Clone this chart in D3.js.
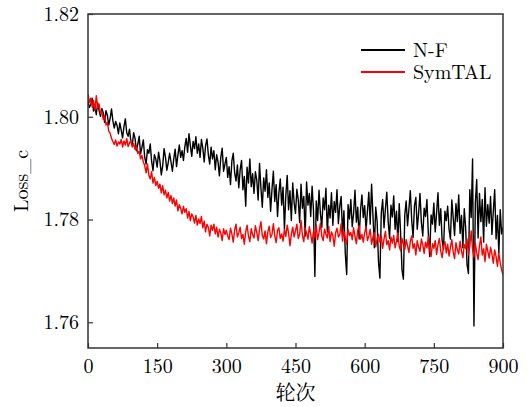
<!DOCTYPE html>
<html>
<head>
<meta charset="utf-8">
<script src="https://cdn.jsdelivr.net/npm/d3@7"></script>
<style>
  body { margin: 0; background: #fff; }
</style>
</head>
<body>
<svg id="chart" width="527" height="407"></svg>
<script>
// one value every 3 epochs: 0, 3, 6 ... 900
const epochStep = 3;

const lossNF = [
  1.8031, 1.8018, 1.8024, 1.8036, 1.8011, 1.8019, 1.8004, 1.8027, 1.8013, 1.8001,
  1.8016, 1.8008, 1.7989, 1.8012, 1.8003, 1.7984, 1.7997, 1.8015, 1.7992, 1.7978,
  1.7991, 1.7983, 1.7967, 1.7988, 1.7974, 1.7959, 1.7981, 1.7996, 1.7969, 1.7962,
  1.7976, 1.7951, 1.7944, 1.7969, 1.7958, 1.7934, 1.7947, 1.7962, 1.7928, 1.7941,
  1.7955, 1.7921, 1.7908, 1.7936, 1.7929, 1.7947, 1.7913, 1.7895, 1.7926, 1.7918,
  1.7902, 1.7931, 1.7914, 1.7887, 1.7905, 1.7938, 1.7921, 1.7896, 1.7911, 1.7929,
  1.7912, 1.7894, 1.7918, 1.7937, 1.7903, 1.7926, 1.7945, 1.7921, 1.7934, 1.7915,
  1.7942, 1.7958, 1.7931, 1.7967, 1.7944, 1.7923, 1.7952, 1.7938, 1.7961, 1.7929,
  1.7947, 1.7921, 1.7956, 1.7939, 1.7912, 1.7944, 1.7957, 1.7926, 1.7908, 1.7941,
  1.7918, 1.7934, 1.7897, 1.7926, 1.7912, 1.7885, 1.7921, 1.7939, 1.7894, 1.7908,
  1.7921, 1.7882, 1.7903, 1.7868, 1.7914, 1.7929, 1.7891, 1.7875, 1.7906, 1.7862,
  1.7897, 1.7915, 1.7858, 1.7884, 1.7826, 1.7902, 1.7871, 1.7918, 1.7864, 1.7889,
  1.7851, 1.7893, 1.7877, 1.7838, 1.7909, 1.7862, 1.7824, 1.7881, 1.7855, 1.7897,
  1.7843, 1.7871, 1.7816, 1.7859, 1.7894, 1.7835, 1.7868, 1.7806, 1.7852, 1.7879,
  1.7828, 1.7863, 1.7781, 1.7847, 1.7886, 1.7819, 1.7856, 1.7798, 1.7871, 1.7833,
  1.7812, 1.7859, 1.7838, 1.7794, 1.7869, 1.7822, 1.7845, 1.7768, 1.7873, 1.7828,
  1.7851, 1.7806, 1.7865, 1.7818, 1.7689, 1.7836, 1.7798, 1.7857, 1.7812, 1.7785,
  1.7842, 1.7819, 1.7861, 1.7776, 1.7828, 1.7803, 1.7852, 1.7789, 1.7835, 1.7814,
  1.7858, 1.7792, 1.7826, 1.7845, 1.7771, 1.7817, 1.7734, 1.7693, 1.7829, 1.7801,
  1.7839, 1.7786, 1.7812, 1.7857, 1.7795, 1.7824, 1.7762, 1.7818, 1.7848, 1.7804,
  1.7827, 1.7779, 1.7816, 1.7853, 1.7791, 1.7869, 1.7808, 1.7745, 1.7824, 1.7797,
  1.7718, 1.7686, 1.7812, 1.7839, 1.7784, 1.7821, 1.7853, 1.7796, 1.7763, 1.7828,
  1.7805, 1.7846, 1.7781, 1.7816, 1.7757, 1.7831, 1.7772, 1.7702, 1.7684, 1.7809,
  1.7836, 1.7788, 1.7821, 1.7856, 1.7799, 1.7765, 1.7827, 1.7843, 1.7781, 1.7812,
  1.7851, 1.7794, 1.7768, 1.7822, 1.7806, 1.7839, 1.7774, 1.7728, 1.7809, 1.7791,
  1.7832, 1.7776, 1.7813, 1.7852, 1.7789, 1.7821, 1.7759, 1.7742, 1.7816, 1.7798,
  1.7826, 1.7781, 1.7762, 1.7838, 1.7804, 1.7769, 1.7831, 1.7796, 1.7848, 1.7773,
  1.7808, 1.7745, 1.7821, 1.7784, 1.7712, 1.7695, 1.7858, 1.7804, 1.7918, 1.7593,
  1.7832, 1.7878, 1.7764, 1.7851, 1.7796, 1.7839, 1.7756, 1.7862, 1.7787, 1.7829,
  1.7793, 1.7845, 1.7771, 1.7816, 1.7858, 1.7762, 1.7808, 1.7735, 1.7819, 1.7772,
  1.7785
];

const lossSymTAL = [
  1.8045, 1.8028, 1.8036, 1.8019, 1.8032, 1.8012, 1.8041, 1.8018, 1.8025, 1.8006,
  1.8011, 1.7995, 1.8002, 1.7984, 1.7989, 1.7972, 1.7968, 1.7958, 1.7952, 1.7946,
  1.7955, 1.7943, 1.7951, 1.7947, 1.7956, 1.7941, 1.7953, 1.7945, 1.7958, 1.7942,
  1.7949, 1.7954, 1.7941, 1.7948, 1.7936, 1.7942, 1.7929, 1.7933, 1.7918, 1.7925,
  1.7912, 1.7905, 1.7891, 1.7908, 1.7886, 1.7879, 1.7893, 1.7871, 1.7882, 1.7866,
  1.7874, 1.7861, 1.7869, 1.7852, 1.7866, 1.7848, 1.7857, 1.7842, 1.7853, 1.7836,
  1.7847, 1.7831, 1.7842, 1.7826, 1.7838, 1.7817, 1.7829, 1.7822, 1.7811, 1.7826,
  1.7814, 1.7821, 1.7803, 1.7816, 1.7798, 1.7811, 1.7805, 1.7793, 1.7808, 1.7789,
  1.7801, 1.7792, 1.7806, 1.7784, 1.7797, 1.7776, 1.7791, 1.7785, 1.7768, 1.7789,
  1.7779, 1.7791, 1.7772, 1.7785, 1.7766, 1.7781, 1.7774, 1.7759, 1.7782, 1.7771,
  1.7779, 1.7768, 1.7761, 1.7783, 1.7772, 1.7756, 1.7779, 1.7791, 1.7766, 1.7774,
  1.7785, 1.7763, 1.7771, 1.7752, 1.7776, 1.7789, 1.7768, 1.7757, 1.7782, 1.7771,
  1.7764, 1.7788, 1.7775, 1.7759, 1.7781, 1.7796, 1.7769, 1.7762, 1.7778, 1.7753,
  1.7776, 1.7787, 1.7765, 1.7771, 1.7792, 1.7768, 1.7755, 1.7779, 1.7784, 1.7763,
  1.7772, 1.7758, 1.7781, 1.7767, 1.7789, 1.7774, 1.7749, 1.7771, 1.7785, 1.7766,
  1.7778, 1.7791, 1.7763, 1.7772, 1.7798, 1.7769, 1.7757, 1.7783, 1.7774, 1.7762,
  1.7786, 1.7771, 1.7754, 1.7777, 1.7765, 1.7789, 1.7761, 1.7775, 1.7793, 1.7768,
  1.7759, 1.7781, 1.7772, 1.7764, 1.7787, 1.7757, 1.7776, 1.7769, 1.7748, 1.7774,
  1.7783, 1.7766, 1.7771, 1.7792, 1.7758, 1.7777, 1.7764, 1.7752, 1.7781, 1.7769,
  1.7775, 1.7761, 1.7784, 1.7767, 1.7753, 1.7779, 1.7788, 1.7762, 1.7771, 1.7756,
  1.7774, 1.7786, 1.7759, 1.7768, 1.7781, 1.7752, 1.7766, 1.7775, 1.7747, 1.7763,
  1.7771, 1.7756, 1.7768, 1.7744, 1.7762, 1.7777, 1.7751, 1.7759, 1.7741, 1.7766,
  1.7754, 1.7769, 1.7745, 1.7758, 1.7774, 1.7748, 1.7739, 1.7763, 1.7752, 1.7742,
  1.7761, 1.7749, 1.7736, 1.7757, 1.7768, 1.7744, 1.7753, 1.7731, 1.7759, 1.7746,
  1.7738, 1.7762, 1.7751, 1.7734, 1.7756, 1.7745, 1.7767, 1.7741, 1.7728, 1.7753,
  1.7744, 1.7759, 1.7732, 1.7751, 1.7763, 1.7738, 1.7726, 1.7749, 1.7757, 1.7735,
  1.7752, 1.7729, 1.7746, 1.7761, 1.7737, 1.7724, 1.7755, 1.7741, 1.7733, 1.7758,
  1.7739, 1.7726, 1.7751, 1.7744, 1.7762, 1.7731, 1.7748, 1.7778, 1.7742, 1.7727,
  1.7754, 1.7735, 1.7722, 1.7749, 1.7766, 1.7731, 1.7743, 1.7718, 1.7752, 1.7738,
  1.7725, 1.7746, 1.7733, 1.7715, 1.7741, 1.7728, 1.7709, 1.7734, 1.7716, 1.7702,
  1.7692
];

const xTicks = [0, 150, 300, 450, 600, 750, 900];
const yTicks = [1.76, 1.78, 1.80, 1.82];
const seriesNames = ["N-F", "SymTAL"];
const seriesColors = ["#000000", "#ff0000"];

const margin = { top: 14, right: 24, bottom: 59, left: 88 };
const width = 527 - margin.left - margin.right;
const height = 407 - margin.top - margin.bottom;
const serif = "'Latin Modern Roman', 'Liberation Serif', serif";

const svg = d3.select("#chart");
const g = svg.append("g")
  .attr("transform", `translate(${margin.left},${margin.top})`);

g.append("clipPath")
  .attr("id", "plot-clip")
  .append("rect")
  .attr("width", width)
  .attr("height", height);

const x = d3.scaleLinear().domain([0, 900]).range([0, width]);
const y = d3.scaleLinear().domain([1.755, 1.82]).range([height, 0]);

const line = d3.line()
  .x((d, i) => x(i * epochStep))
  .y(d => y(d));

[lossNF, lossSymTAL].forEach((s, k) => {
  g.append("path")
    .datum(s)
    .attr("clip-path", "url(#plot-clip)")
    .attr("fill", "none")
    .attr("stroke", seriesColors[k])
    .attr("stroke-width", 1.4)
    .attr("stroke-linejoin", "round")
    .attr("d", line);
});

// axes (ticks point inward)
const xAxis = g.append("g")
  .attr("transform", `translate(0,${height})`)
  .call(d3.axisBottom(x).tickValues(xTicks).tickSizeInner(-5).tickSizeOuter(0).tickPadding(11));
const yAxis = g.append("g")
  .call(d3.axisLeft(y).tickValues(yTicks).tickFormat(d3.format(".2f")).tickSizeInner(-5).tickSizeOuter(0).tickPadding(9));

[xAxis, yAxis].forEach(a => {
  a.attr("font-family", null);
  a.select(".domain").remove();
  a.selectAll("line").attr("stroke", "#333").attr("stroke-width", 1.2);
  a.selectAll("text")
    .attr("fill", "#000")
    .style("font-family", serif)
    .style("font-size", "20px");
});

// frame
g.append("rect")
  .attr("width", width)
  .attr("height", height)
  .attr("fill", "none")
  .attr("stroke", "#333")
  .attr("stroke-width", 1.5);

g.append("text")
  .attr("transform", `translate(-60,${height / 2}) rotate(-90)`)
  .attr("text-anchor", "middle")
  .style("font-family", serif)
  .style("font-size", "20px")
  .text("Loss_c");

g.append("text")
  .attr("x", width / 2)
  .attr("y", height + 52)
  .attr("text-anchor", "middle")
  .style("font-family", "'Noto Serif CJK SC', serif")
  .style("font-size", "20px")
  .text("轮次");

// legend
const legend = g.append("g").attr("transform", `translate(${273},${36})`);
seriesNames.forEach((name, k) => {
  const row = legend.append("g").attr("transform", `translate(0,${k * 22})`);
  row.append("line")
    .attr("x1", 0).attr("x2", 44)
    .attr("stroke", seriesColors[k])
    .attr("stroke-width", 2);
  row.append("text")
    .attr("x", 52)
    .attr("y", 7)
    .style("font-family", serif)
    .style("font-size", "20px")
    .text(name);
});
</script>
</body>
</html>
